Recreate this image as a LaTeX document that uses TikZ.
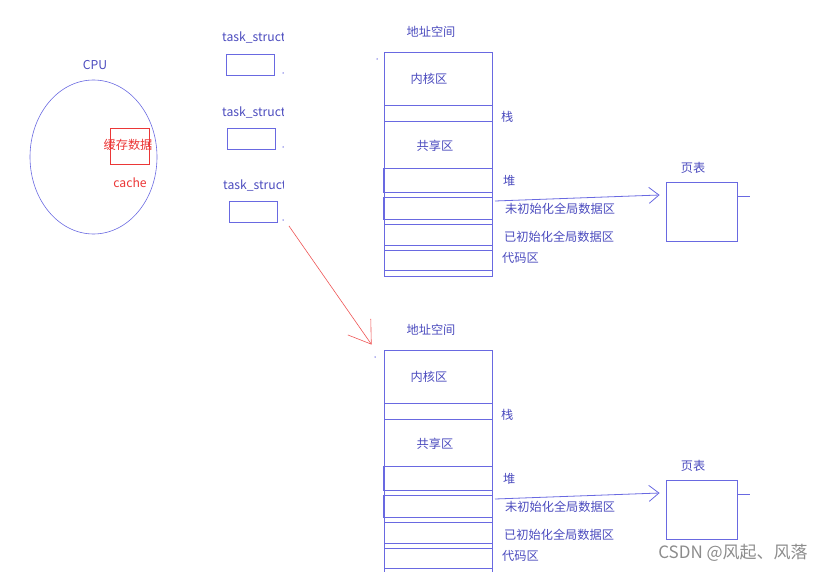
\documentclass[tikz,border=0pt]{standalone}
\usepackage{fontspec}
\setmainfont{Noto Sans CJK SC}
\usetikzlibrary{arrows.meta,shapes.geometric}
\definecolor{ln}{RGB}{105,105,225}
\definecolor{tx}{RGB}{75,75,190}
\definecolor{rd}{RGB}{235,55,55}
\begin{document}
\begin{tikzpicture}[x=1pt,y=-1pt,
  font=\fontsize{12.2}{14}\selectfont,
  seg/.style={draw=ln,line width=0.8pt,inner sep=0pt,minimum width=108pt},
  tbox/.style={draw=ln,line width=0.8pt,inner sep=0pt,minimum width=48pt,minimum height=21pt},
  lbl/.style={text=tx,inner sep=0pt},
  rlbl/.style={text=tx,inner sep=0pt,anchor=west},
  dotm/.style={fill=ln,draw=none,circle,inner sep=0pt,minimum size=1.5pt}]
\useasboundingbox (0,0) rectangle (834,572);
% CPU
\node[lbl] (cpulbl) at (95,65) {CPU};
\node[draw=ln,line width=0.6pt,ellipse,inner sep=0pt,minimum width=127pt,minimum height=154pt] (cpu) at (93.5,157) {};
\node[draw=rd,line width=0.6pt,inner sep=0pt,minimum width=39pt,minimum height=36pt] (cbox) at (129.5,146) {};
\node[text=rd,inner sep=0pt] (cdata) at (128,145) {缓存数据};
\node[text=rd,inner sep=0pt] (cache) at (130,183) {cache};
% task_struct (labels cut off at the right as in the picture)
\begin{scope}
  \clip (200,20) rectangle (283,200);
  \node[lbl,anchor=west] (l1) at (222,38) {task\_struct};
  \node[lbl,anchor=west] (l2) at (222,112) {task\_struct};
  \node[lbl,anchor=west] (l3) at (223,185) {task\_struct};
\end{scope}
\node[tbox] (t1) at (250,64.5) {};
\node[tbox] (t2) at (251.5,139) {};
\node[tbox] (t3) at (253.5,212) {};
\node[dotm] (d1) at (283,73) {};
\node[dotm] (d2) at (283,147) {};
\node[dotm] (d3) at (283,220) {};
% address spaces
\foreach \dy/\s in {0/1,298/2}{
  \begin{scope}[shift={(0,\dy)}]
    \node[lbl] (asl\s) at (431,32) {地址空间};
    \node[seg,minimum height=224pt] (as\s) at (438,164) {};
    \node[lbl] (k\s) at (429,79) {内核区};
    \node[seg,minimum height=16pt] (st\s) at (438,113) {};
    \node[rlbl] (stl\s) at (501,117) {栈};
    \node[lbl] (sh\s) at (435,146) {共享区};
    \node[seg,minimum height=24pt,minimum width=109pt] (hp\s) at (437.5,180) {};
    \node[rlbl] (hpl\s) at (503,181) {堆};
    \node[seg,minimum height=22pt,minimum width=109pt] (un\s) at (437.5,208) {};
    \node[rlbl] (unl\s) at (505,209) {未初始化全局数据区};
    \node[seg,minimum height=21pt] (in\s) at (438,234.5) {};
    \node[rlbl] (inl\s) at (504,237) {已初始化全局数据区};
    \node[seg,minimum height=20pt] (cd\s) at (438,260) {};
    \node[rlbl] (cdl\s) at (502,258) {代码区};
    \coordinate (h\s) at (495,201);
    \node[lbl] (ptl\s) at (693,168) {页表};
    \node[draw=ln,line width=0.8pt,inner sep=0pt,minimum width=71pt,minimum height=59pt] (pt\s) at (701.5,211.5) {};
    \draw[ln,line width=0.8pt,-{Straight Barb[length=10pt,width=16pt]}] (h\s) -- ([xshift=-6pt,yshift=16.5pt]pt\s.west);
    \draw[ln,line width=0.8pt] ([yshift=15.5pt]pt\s.east) -- ++(13,0);
  \end{scope}
}
\node[dotm] (d4) at (377,59) {};
\node[dotm] (d5) at (375,357) {};
% red arrow
\draw[rd!85,line width=0.6pt,-{Straight Barb[length=21pt,width=28pt]}] ([shift={(11pt,-3pt)}]t3.south east) -- ([shift={(-12pt,5pt)}]as2.north west);
% watermark
\node[text=black!45,inner sep=0pt,font=\fontsize{17}{19}\selectfont] (wm) at (733,553) {CSDN @风起、风落};
\end{tikzpicture}
\end{document}
